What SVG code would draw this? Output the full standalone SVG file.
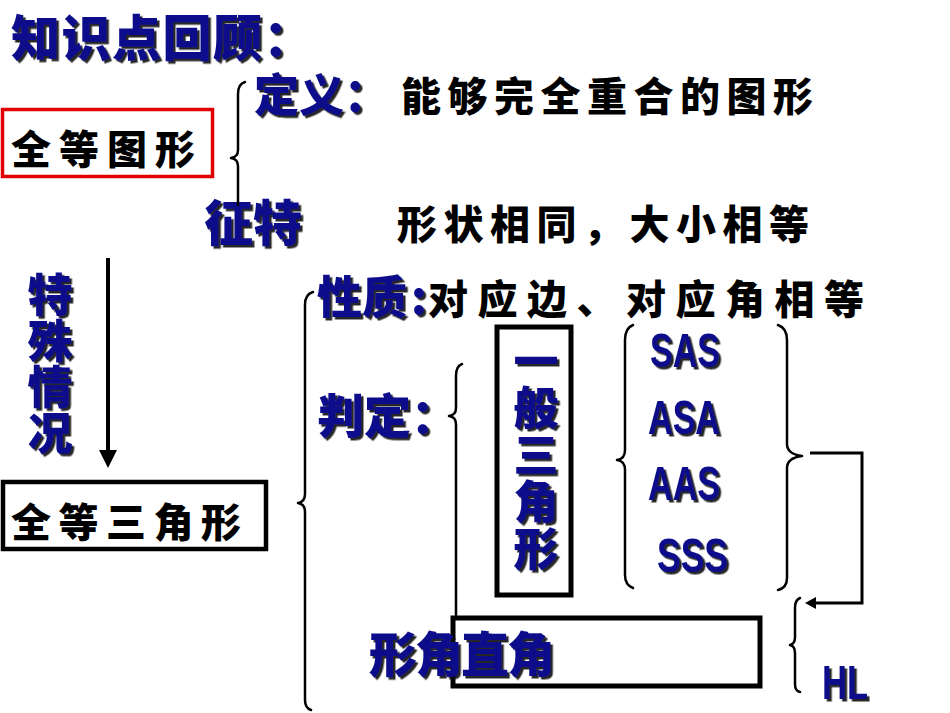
<svg xmlns="http://www.w3.org/2000/svg" width="950" height="713" viewBox="0 0 950 713">
<defs>
<filter id="sh" x="-20%" y="-20%" width="140%" height="150%">
<feDropShadow dx="2.5" dy="2.5" stdDeviation="0.3" flood-color="#111" flood-opacity="0.9"/>
</filter>
</defs>
<style>
.b{font-family:"Noto Sans CJK SC","Liberation Sans",sans-serif;font-weight:900;fill:#0b0b8c;filter:url(#sh)}
.v{writing-mode:vertical-rl}
.k{font-family:"Noto Sans CJK SC",sans-serif;font-weight:900;fill:#000}
.e{font-family:"Liberation Sans","Noto Sans CJK SC",sans-serif;font-weight:700;fill:#0b0b8c;filter:url(#sh)}
.br{fill:none;stroke:#000;stroke-width:2.5;stroke-linejoin:round;stroke-linecap:round}
.box{fill:none;stroke:#000;stroke-width:5}
</style>
<rect width="950" height="713" fill="#fff"/>

<g id="title"><text class="b" x="11" y="56" font-size="49" letter-spacing="1.5">知识点回顾：</text></g>

<g id="n-quandeng-tuxing">
<rect x="2.5" y="109.5" width="210" height="67" fill="none" stroke="#e00000" stroke-width="3.5"/>
<text class="k" x="11" y="164" font-size="40" letter-spacing="8">全等图形</text>
</g>

<g id="n-dingyi">
<text class="b" x="254" y="112" font-size="45">定义：</text>
<text class="k" x="401" y="111" font-size="40" letter-spacing="6.5">能够完全重合的图形</text>
</g>

<g id="n-tezheng">
<text class="b" x="204" y="241" font-size="49">征特</text>
<text class="k" x="397" y="239" font-size="40" letter-spacing="6.5">形状相同，大小相等</text>
</g>

<g id="n-teshu">
<text class="b v" x="50" y="272" font-size="45" letter-spacing="1">特殊情况</text>
</g>

<g id="n-quandeng-sanjiaoxing">
<rect x="3" y="482" width="263" height="67" fill="none" stroke="#000" stroke-width="4.5"/>
<text class="k" x="11" y="537" font-size="40" letter-spacing="7.5">全等三角形</text>
</g>

<g id="n-xingzhi">
<text class="b" x="317" y="314" font-size="45">性质<tspan dx="4">:</tspan></text>
<text class="k" x="428" y="314" font-size="40" letter-spacing="9.5">对应边、对应角相等</text>
</g>

<g id="n-panding">
<text class="b" x="317" y="433" font-size="47">判定：</text>
</g>

<g id="n-yiban">
<rect class="box" x="497" y="327" width="74" height="268"/>
<text class="b v" x="536" y="338" font-size="45" letter-spacing="2">一般三角形</text>
</g>

<g id="n-criteria">
<text class="e" x="650" y="367" font-size="48" textLength="70" lengthAdjust="spacingAndGlyphs">SAS</text>
<text class="e" x="648" y="434" font-size="48" textLength="72" lengthAdjust="spacingAndGlyphs">ASA</text>
<text class="e" x="648" y="500" font-size="48" textLength="72" lengthAdjust="spacingAndGlyphs">AAS</text>
<text class="e" x="657" y="572" font-size="48" textLength="71" lengthAdjust="spacingAndGlyphs">SSS</text>
</g>

<g id="n-zhijiao">
<rect class="box" x="453" y="618" width="307" height="68"/>
<text class="b" x="369" y="672" font-size="48" letter-spacing="-2">形角直角</text>
</g>

<g id="n-hl">
<text class="e" x="822" y="699" font-size="48" textLength="46" lengthAdjust="spacingAndGlyphs">HL</text>
</g>

<g id="connectors">
<path class="br" d="M245,82 Q238,84 238,94 L238,150 Q238,157 231,158 Q238,159 238,166 L238,205"/>
<line x1="108" y1="258" x2="108" y2="452" stroke="#000" stroke-width="4"/>
<polygon points="99,450 117,450 108,468" fill="#000"/>
<path class="br" d="M313,292 Q305,294 305,305 L305,494 Q305,502 298,503 Q305,504 305,512 L305,700 Q305,708 311,710"/>
<path class="br" d="M462,364 Q456,366 456,376 L456,408 Q456,415 449,416 Q456,417 456,424 L456,617"/>
<path class="br" d="M633,325 Q625,328 625,340 L625,450 Q625,459 617,460 Q625,461 625,470 L625,575 Q625,585 633,588"/>
<path class="br" d="M778,325 Q787,328 787,340 L787,444 Q787,454 802,456 Q787,458 787,468 L787,578 Q787,588 778,590" stroke="#14146e"/>
<path class="br" d="M800,598 Q795,600 795,608 L795,637 Q795,644 790,645 Q795,646 795,653 L795,684 Q795,691 800,692"/>
<polyline points="810,453 862,453 862,603 814,603" fill="none" stroke="#000" stroke-width="3"/>
<polygon points="805,603 816,597 816,609" fill="#000"/>
</g>
</svg>
